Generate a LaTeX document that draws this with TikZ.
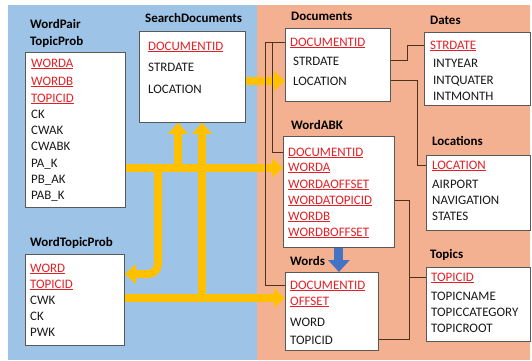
\documentclass[tikz,border=0pt]{standalone}
\usepackage{fontspec}
\setmainfont{Carlito}
\usetikzlibrary{arrows.meta, positioning, calc}
\definecolor{bgBlue}{RGB}{157,195,230}
\definecolor{bgSalmon}{RGB}{244,177,146}
\definecolor{keyRed}{RGB}{228,32,38}
\definecolor{flowGold}{RGB}{255,192,0}
\definecolor{flowBlue}{RGB}{68,114,196}
\tikzset{
  tbl/.style={draw=black!65, fill=white, line width=0.8bp, anchor=north west, inner sep=0},
  ttl/.style={anchor=west, inner sep=0, font=\fontsize{13}{17}\selectfont\bfseries, align=left},
  fld/.style={anchor=base west, inner sep=0, font=\fontsize{13}{15}\selectfont, text=black!90},
  pk/.style={fld, text=keyRed},
  lnk/.style={draw=black!60!brown, line width=0.9bp},
  flow/.style={draw=flowGold, line width=8bp, -{Triangle[width=19bp,length=11bp]}},
}

\begin{document}
\begin{tikzpicture}[x=1bp, y=-1bp]
  \useasboundingbox (0,0) rectangle (532,360);
  % two panels
  \fill[bgBlue] (8,5) rectangle (257,360);
  \fill[bgSalmon] (257,5) rectangle (530,360);

  % tables
  \node[tbl, minimum width=100bp, minimum height=155bp] (wptp) at (25,52) {};
  \node[ttl] (wptp-t) at (30,33.5) {WordPair\\TopicProb};
  \foreach \n/\t/\s/\y in {a/\underline{WORDA}/pk/63, b/\underline{WORDB}/pk/81, c/\underline{TOPICID}/pk/98,
    d/CK/fld/114, e/CWAK/fld/130, f/CWABK/fld/146, g/PA\_K/fld/163, h/PB\_AK/fld/179, i/PAB\_K/fld/195}
    \node[\s] (wptp-\n) at (31,\y+4) {\t};

  \node[tbl, minimum width=106bp, minimum height=91bp] (sdoc) at (139,31) {};
  \node[ttl] (sdoc-t) at (145,18) {SearchDocuments};
  \foreach \n/\t/\s/\y in {a/\underline{DOCUMENTID}/pk/46, b/STRDATE/fld/67, c/LOCATION/fld/89}
    \node[\s] (sdoc-\n) at (148,\y+4) {\t};

  \node[tbl, minimum width=99bp, minimum height=91bp] (wtp) at (25,254) {};
  \node[ttl] (wtp-t) at (30,243) {WordTopicProb};
  \foreach \n/\t/\s/\y in {a/\underline{WORD}/pk/268, b/\underline{TOPICID}/pk/284, c/CWK/fld/300, d/CK/fld/316, e/PWK/fld/332}
    \node[\s] (wtp-\n) at (30,\y+4) {\t};

  \node[tbl, minimum width=105bp, minimum height=73bp] (doc) at (285,28) {};
  \node[ttl] (doc-t) at (291,16) {Documents};
  \node[pk] (doc-a) at (290,46) {\underline{DOCUMENTID}};
  \node[fld] (doc-b) at (293,65) {STRDATE};
  \node[fld] (doc-c) at (293,85) {LOCATION};

  \node[tbl, minimum width=106bp, minimum height=73bp] (dates) at (424,32) {};
  \node[ttl] (dates-t) at (430,20) {Dates};
  \node[pk] (dates-a) at (430,49) {\underline{STRDATE}};
  \foreach \n/\t/\y in {b/INTYEAR/63, c/INTQUATER/80, d/INTMONTH/96}
    \node[fld] (dates-\n) at (433,\y+4) {\t};

  \node[tbl, minimum width=111bp, minimum height=111bp] (wabk) at (283,136) {};
  \node[ttl] (wabk-t) at (291,125) {WordABK};
  \foreach \n/\t/\y in {a/DOCUMENTID/152, b/WORDA/167, c/WORDAOFFSET/184, d/WORDATOPICID/200, e/WORDB/216, f/WORDBOFFSET/232}
    \node[pk] (wabk-\n) at (288,\y+4) {\underline{\t}};

  \node[tbl, minimum width=104bp, minimum height=75bp] (locs) at (426,155) {};
  \node[ttl] (locs-t) at (432,141) {Locations};
  \foreach \n/\t/\s/\y in {a/\underline{LOCATION}/pk/165, b/AIRPORT/fld/184, c/NAVIGATION/fld/200, d/STATES/fld/216}
    \node[\s] (locs-\n) at (432,\y+4) {\t};

  \node[tbl, minimum width=93bp, minimum height=78bp] (words) at (285,272) {};
  \node[ttl] (words-t) at (290,261) {Words};
  \foreach \n/\t/\s/\y in {a/\underline{DOCUMENTID}/pk/285, b/\underline{OFFSET}/pk/301, c/WORD/fld/322, d/TOPICID/fld/340}
    \node[\s] (words-\n) at (290,\y+4) {\t};

  \node[tbl, minimum width=104bp, minimum height=74bp] (topics) at (426,267) {};
  \node[ttl] (topics-t) at (430,255) {Topics};
  \foreach \n/\t/\s/\y in {a/\underline{TOPICID}/pk/277, b/TOPICNAME/fld/296, c/TOPICCATEGORY/fld/312, d/TOPICROOT/fld/328}
    \node[\s] (topics-\n) at (431,\y+4) {\t};

  % data flows
  \coordinate (j1) at (178,167);
  \coordinate (j2) at (202,298);
  \coordinate (j3) at (158,167);
  \draw[flow] (sdoc.east |- doc-c) -- (doc.west |- doc-c);
  \draw[flow] (wptp.east |- wabk-b) -- (wabk.west |- wabk-b);
  \draw[flow] (j1) -- (j1 |- sdoc.south);
  \draw[flow] (wtp.east |- j2) -- (words.west |- j2);
  \draw[flow] (j2) -- (j2 |- sdoc.south);
  \draw[flow, rounded corners=10bp] (j3) |- ([yshift=-20bp]wtp.north east);
  \draw[draw=flowBlue, line width=9bp, -{Triangle[width=21bp,length=12bp]}] (wabk.south) -- (wabk.south |- words.north);

  % keys
  \draw[lnk] (doc.east |- doc-b) -- ++(17,0) |- (dates.west |- dates-a);
  \draw[lnk] (doc.east |- doc-c) -- ++(27,0) |- (locs.west |- locs-a);
  \draw[lnk] (wabk.east |- wabk-d) -- ++(15,0) coordinate (tj) |- (words.east |- words-d);
  \draw[lnk] (tj |- topics-a) -- (topics.west |- topics-a);
  \draw[lnk] (doc.west |- doc-a) -- ++(-20,0) coordinate (dj) |- (words.west |- words-a);
  \draw[lnk] ([xshift=7bp]dj) |- (wabk.west |- wabk-a);
\end{tikzpicture}
\end{document}
